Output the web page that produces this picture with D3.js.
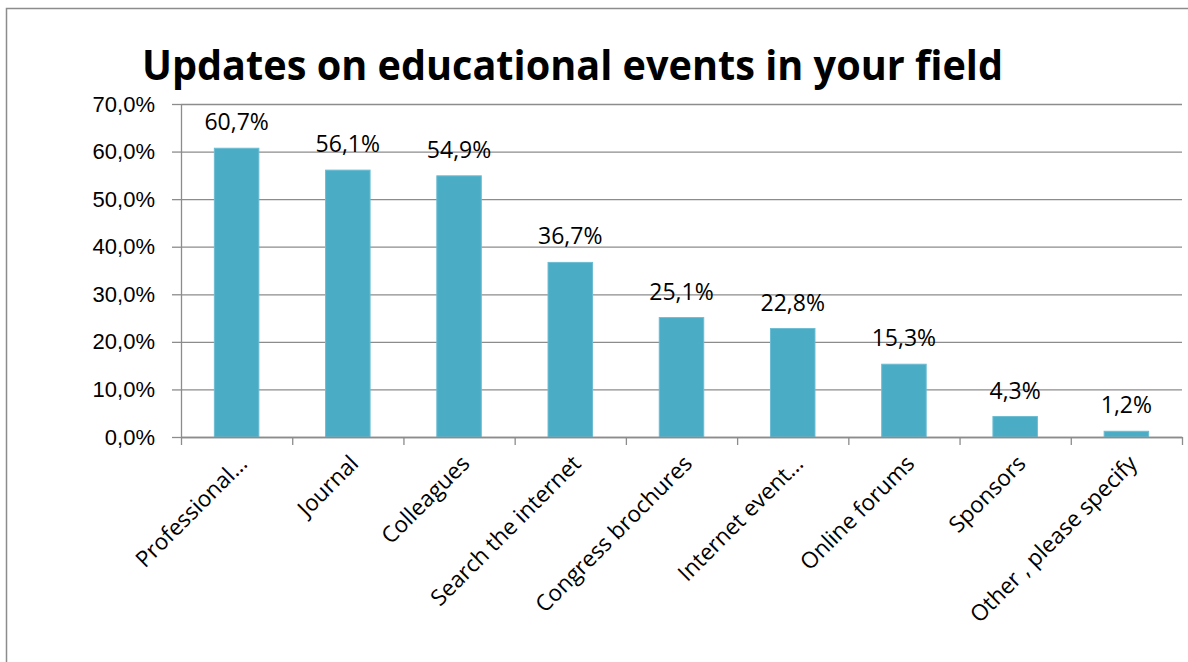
<!DOCTYPE html>
<html>
<head>
<meta charset="utf-8">
<script src="https://cdn.jsdelivr.net/npm/d3@7"></script>
<style>
  body { margin: 0; background: #fff; }
  svg { display: block; font-family: 'Open Sans', sans-serif; }
  .grid line { stroke: #8c8c8c; stroke-width: 1.3; }
  .grid .domain { display: none; }
  .axis path, .axis line { stroke: #8c8c8c; stroke-width: 1.3; }
  .axis text { fill: #000; font-size: 22px; }
</style>
</head>
<body>
<div id="chart"></div>
<script>
const categories = [
  'Professional\u2026',
  'Journal',
  'Colleagues',
  'Search the internet',
  'Congress brochures',
  'Internet event\u2026',
  'Online forums',
  'Sponsors',
  'Other , please specify'
];
const values = [60.7, 56.1, 54.9, 36.7, 25.1, 22.8, 15.3, 4.3, 1.2];
const yTicks = [0, 10, 20, 30, 40, 50, 60, 70];
const title = 'Updates on educational events in your field';

const W = 1188, H = 662;
const margin = { top: 104, right: 6, bottom: 225, left: 181 };
const width = W - margin.left - margin.right;
const height = H - margin.top - margin.bottom;

const fmt = v => d3.format('.1f')(v).replace('.', ',') + '%';

const svg = d3.select('#chart').append('svg')
  .attr('width', W)
  .attr('height', H);

// outer frame
svg.append('rect')
  .attr('x', 6.5)
  .attr('y', 8.5)
  .attr('width', 1300)
  .attr('height', 800)
  .attr('fill', '#fff')
  .attr('stroke', '#8c8c8c')
  .attr('stroke-width', 1.5);

const titleText = svg.append('text')
  .attr('x', 572.5)
  .attr('y', 80)
  .attr('text-anchor', 'middle')
  .attr('font-size', 42)
  .attr('font-weight', 'bold')
  .attr('fill', '#000')
  .text(title);
if (titleText.node().getComputedTextLength() > 861) {
  titleText.attr('textLength', 861).attr('lengthAdjust', 'spacingAndGlyphs');
}

const chart = svg.append('g')
  .attr('transform', 'translate(' + margin.left + ',' + margin.top + ')');

const x = d3.scaleBand()
  .domain(categories)
  .range([0, width])
  .paddingInner(0.6)
  .paddingOuter(0.3);

const xTicks = d3.scaleLinear()
  .domain([0, categories.length])
  .range([0, width]);

const y = d3.scaleLinear()
  .domain([0, 70])
  .range([height, 0]);

// gridlines
chart.append('g')
  .attr('class', 'grid')
  .call(
    d3.axisLeft(y)
      .tickValues(yTicks)
      .tickSize(-width)
      .tickFormat('')
  );

// y axis
chart.append('g')
  .attr('class', 'axis y')
  .call(
    d3.axisLeft(y)
      .tickValues(yTicks)
      .tickSizeInner(9)
      .tickSizeOuter(0)
      .tickPadding(17)
      .tickFormat(d => fmt(d))
  );

// bars
chart.selectAll('.bar')
  .data(values)
  .enter()
  .append('rect')
  .attr('class', 'bar')
  .attr('x', (d, i) => x(categories[i]))
  .attr('y', d => y(d))
  .attr('width', x.bandwidth())
  .attr('height', d => height - y(d))
  .attr('fill', '#4bacc6')
  .attr('stroke', '#6cbdd3')
  .attr('stroke-width', 1);

// data labels
chart.selectAll('.label')
  .data(values)
  .enter()
  .append('text')
  .attr('class', 'label')
  .attr('x', (d, i) => x(categories[i]) + x.bandwidth() / 2)
  .attr('y', d => y(d) - 18)
  .attr('text-anchor', 'middle')
  .attr('font-size', 23)
  .attr('fill', '#000')
  .text(d => fmt(d));

// x axis tick marks
chart.append('g')
  .attr('class', 'axis x')
  .attr('transform', 'translate(0,' + height + ')')
  .call(
    d3.axisBottom(xTicks)
      .tickValues(d3.range(categories.length + 1))
      .tickSizeInner(8)
      .tickSizeOuter(0)
      .tickFormat('')
  );

// x category labels, rotated
chart.append('g')
  .selectAll('text')
  .data(categories)
  .enter()
  .append('text')
  .attr('transform', d =>
    'translate(' + (x(d) + x.bandwidth() / 2 + 12) + ',' + (height + 28) + ') rotate(-45)')
  .attr('text-anchor', 'end')
  .attr('font-size', 22.5)
  .attr('fill', '#000')
  .text(d => d);
</script>
</body>
</html>
